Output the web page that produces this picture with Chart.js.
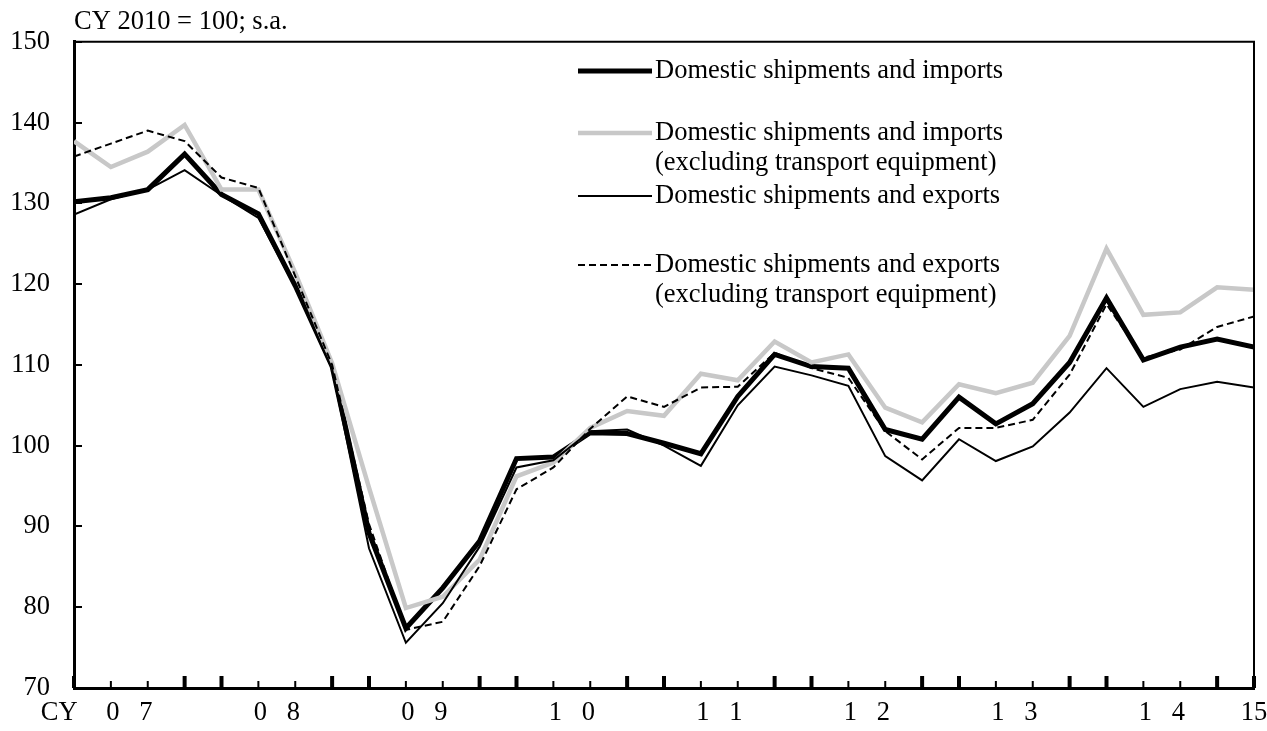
<!DOCTYPE html>
<html>
<head>
<meta charset="utf-8">
<title>Domestic shipments and imports / exports</title>
<script src="https://cdn.jsdelivr.net/npm/chart.js@4.4.1/dist/chart.umd.min.js"></script>
<style>
  html, body { margin: 0; padding: 0; background: #fff; }
  #wrap { width: 1267px; height: 731px; }
</style>
</head>
<body>
<div id="wrap"><canvas id="shipChart" width="1267" height="731"></canvas></div>
<script>
// Quarters CY2007 Q1 .. CY2015 Q1
const quarters = [
  '07Q1','07Q2','07Q3','07Q4','08Q1','08Q2','08Q3','08Q4',
  '09Q1','09Q2','09Q3','09Q4','10Q1','10Q2','10Q3','10Q4',
  '11Q1','11Q2','11Q3','11Q4','12Q1','12Q2','12Q3','12Q4',
  '13Q1','13Q2','13Q3','13Q4','14Q1','14Q2','14Q3','14Q4','15Q1'
];

// CY 2010 = 100; s.a.
const importsAll = [
  130.2, 130.7, 131.7, 136.1, 131.1, 128.7, 119.8, 109.8,
  89.2, 77.4, 82.4, 88.2, 98.4, 98.6, 101.6, 101.5,
  100.3, 99.0, 106.1, 111.3, 109.8, 109.6, 102.0, 100.8,
  106.0, 102.7, 105.2, 110.3, 118.3, 110.6, 112.2, 113.2, 112.2
];
const importsExTransport = [
  137.7, 134.5, 136.4, 139.7, 131.7, 131.7, 121.4, 110.2,
  94.8, 79.9, 81.3, 85.9, 96.2, 97.9, 102.2, 104.3,
  103.7, 108.9, 108.1, 112.9, 110.3, 111.3, 104.7, 102.9,
  107.6, 106.5, 107.8, 113.6, 124.4, 116.2, 116.5, 119.6, 119.3
];
const exportsAll = [
  128.6, 130.5, 131.7, 134.1, 131.0, 128.2, 119.6, 109.5,
  87.3, 75.6, 80.5, 87.5, 97.3, 98.2, 101.8, 102.0,
  100.0, 97.5, 105.0, 109.8, 108.7, 107.4, 98.7, 95.7,
  100.8, 98.1, 99.9, 104.1, 109.6, 104.8, 107.0, 107.9, 107.2
];
const exportsExTransport = [
  135.8, 137.4, 139.0, 137.7, 133.2, 131.9, 121.0, 110.0,
  90.3, 77.2, 78.2, 85.1, 94.6, 97.3, 102.1, 106.1,
  104.8, 107.2, 107.3, 111.5, 109.6, 108.4, 101.8, 98.3,
  102.2, 102.2, 103.2, 108.8, 117.5, 110.9, 111.9, 114.7, 116.0
];

// x-axis labels (one per calendar year, last one for 2015)
const axisPrefix = 'CY';
const yearLabels = ['0   7', '0   8', '0   9', '1   0', '1   1', '1   2', '1   3', '1   4'];
const lastYearLabel = '15';

const FONT = '"Liberation Serif", "Times New Roman", serif';
const FONT_SIZE = 26.5;

const toPoints = arr => arr.map((v, i) => ({ x: i, y: v }));

// Trục, khung và vạch chia quý (vẽ sau cùng)
const framePlugin = {
  id: 'framePlugin',
  afterDraw(chart) {
    const { ctx, chartArea: a, scales: { x, y } } = chart;
    ctx.save();
    ctx.fillStyle = '#000';
    ctx.strokeStyle = '#000';

    // top and right border
    ctx.lineWidth = 2;
    ctx.beginPath();
    ctx.moveTo(a.left, a.top);
    ctx.lineTo(a.right, a.top);
    ctx.lineTo(a.right, a.bottom);
    ctx.stroke();

    // quarter ticks, pointing inward
    quarters.forEach((q, i) => {
      const px = x.getPixelForValue(i);
      const major = (i % 4 === 0 || i % 4 === 3);
      if (major) ctx.fillRect(px - 2, a.bottom - 12, 4, 12);
      else ctx.fillRect(px - 1, a.bottom - 7, 2, 7);
    });

    // y ticks, pointing inward
    y.ticks.forEach(t => {
      const py = Math.round(y.getPixelForValue(t.value));
      ctx.fillRect(a.left, py - 1, 8, 2);
    });

    // legend
    const rowY = [71, 133, 196, 265];
    ctx.font = FONT_SIZE + 'px ' + FONT;
    ctx.textBaseline = 'middle';
    ctx.textAlign = 'left';
    chart.data.datasets.forEach((ds, i) => {
      const ly = rowY[i];
      ctx.save();
      ctx.strokeStyle = ds.borderColor;
      ctx.lineWidth = ds.borderWidth;
      ctx.setLineDash(ds.borderDash || []);
      ctx.beginPath();
      ctx.moveTo(578, ly);
      ctx.lineTo(652, ly);
      ctx.stroke();
      ctx.restore();
      ds.label.split('\n').forEach((line, k) => {
        ctx.fillText(line, 655, ly + k * 30);
      });
    });
    ctx.restore();
  }
};

const ctx = document.getElementById('shipChart').getContext('2d');
new Chart(ctx, {
  type: 'line',
  data: {
    datasets: [
      {
        label: 'Domestic shipments and imports',
        data: toPoints(importsAll),
        borderColor: '#000',
        borderWidth: 5,
        order: 3
      },
      {
        label: 'Domestic shipments and imports\n(excluding transport equipment)',
        data: toPoints(importsExTransport),
        borderColor: '#c8c8c8',
        borderWidth: 4.5,
        order: 2
      },
      {
        label: 'Domestic shipments and exports',
        data: toPoints(exportsAll),
        borderColor: '#000',
        borderWidth: 2,
        order: 1
      },
      {
        label: 'Domestic shipments and exports\n(excluding transport equipment)',
        data: toPoints(exportsExTransport),
        borderColor: '#000',
        borderWidth: 2,
        borderDash: [7, 4],
        order: 0
      }
    ]
  },
  options: {
    responsive: false,
    animation: false,
    layout: { padding: { left: 0, right: 13, top: 0, bottom: 0 } },
    elements: {
      point: { radius: 0, hoverRadius: 0 },
      line: { tension: 0, borderJoinStyle: 'miter', borderCapStyle: 'butt', fill: false }
    },
    plugins: {
      legend: { display: false },
      tooltip: { enabled: false },
      title: {
        display: true,
        text: 'CY 2010 = 100; s.a.',
        align: 'start',
        fullSize: false,
        color: '#000',
        font: { family: FONT, size: FONT_SIZE, weight: 'normal' },
        padding: { top: 6, bottom: 4 }
      }
    },
    scales: {
      x: {
        type: 'linear',
        min: 0,
        max: quarters.length - 1,
        grid: { display: false, drawTicks: false },
        border: { display: true, color: '#000', width: 3 },
        ticks: {
          autoSkip: false,
          maxRotation: 0,
          padding: 9,
          color: '#000',
          font: { family: FONT, size: FONT_SIZE }
        },
        afterBuildTicks(scale) {
          const t = [{ value: -0.4, label: axisPrefix }];
          yearLabels.forEach((lab, i) => t.push({ value: i * 4 + 1.5, label: lab }));
          t.push({ value: quarters.length - 1, label: lastYearLabel });
          scale.ticks = t;
        },
        afterTickToLabelConversion(scale) {
          scale.ticks.forEach(t => {
            if (t.value < 0) t.label = axisPrefix;
            else if (t.value === quarters.length - 1) t.label = lastYearLabel;
            else t.label = yearLabels[Math.round((t.value - 1.5) / 4)];
          });
        },
        afterFit(scale) {
          scale.height = 43;
          scale.paddingLeft = 0;
          scale.paddingRight = 0;
        }
      },
      y: {
        min: 70,
        max: 150,
        grid: { display: false, drawTicks: false },
        border: { display: true, color: '#000', width: 3 },
        ticks: {
          stepSize: 10,
          padding: 24,
          color: '#000',
          font: { family: FONT, size: FONT_SIZE }
        },
        afterFit(scale) {
          scale.width = 74;
        }
      }
    }
  },
  plugins: [framePlugin]
});
</script>
</body>
</html>
